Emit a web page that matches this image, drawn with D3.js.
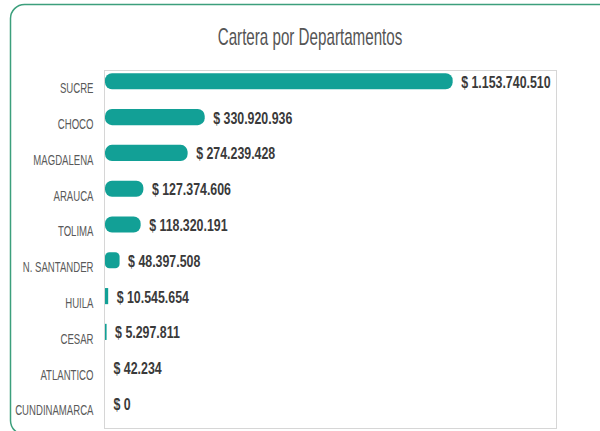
<!DOCTYPE html>
<html>
<head>
<meta charset="utf-8">
<script src="https://cdn.jsdelivr.net/npm/d3@7"></script>
<style>
  html, body { margin: 0; padding: 0; background: #fff; }
  svg { display: block; }
</style>
</head>
<body>
<svg id="chart" width="600" height="431"></svg>
<script>
const title = "Cartera por Departamentos";
const categories = ["SUCRE", "CHOCO", "MAGDALENA", "ARAUCA", "TOLIMA", "N. SANTANDER", "HUILA", "CESAR", "ATLANTICO", "CUNDINAMARCA"];
const values = [1153740510, 330920936, 274239428, 127374606, 118320191, 48397508, 10545654, 5297811, 42234, 0];
const valueLabels = ["$ 1.153.740.510", "$ 330.920.936", "$ 274.239.428", "$ 127.374.606", "$ 118.320.191", "$ 48.397.508", "$ 10.545.654", "$ 5.297.811", "$ 42.234", "$ 0"];
const xMax = 1500000000;

const FONT = "'Liberation Sans', Arial, sans-serif";
const svg = d3.select("#chart");

// outer rounded frame
svg.append("rect")
  .attr("x", 10.5).attr("y", 4.5)
  .attr("width", 610).attr("height", 430)
  .attr("rx", 14).attr("ry", 14)
  .attr("fill", "#fff")
  .attr("stroke", "#3c9f7c").attr("stroke-width", 1.5);

// title
svg.append("text")
  .attr("transform", "translate(310,45) scale(0.66,1)")
  .attr("text-anchor", "middle")
  .attr("font-family", FONT)
  .attr("font-size", 23)
  .attr("fill", "#555")
  .text(title);

const plot = { left: 104.5, right: 556.5, top: 70.5, bottom: 428.5 };

// plot box
svg.append("rect")
  .attr("x", plot.left).attr("y", plot.top)
  .attr("width", plot.right - plot.left).attr("height", plot.bottom - plot.top)
  .attr("fill", "#fff")
  .attr("stroke", "#d6d6d6").attr("stroke-width", 1);

const x = d3.scaleLinear().domain([0, xMax]).range([105, 557]);
const y = d3.scaleBand().domain(categories).range([63.4, 421.4]).paddingInner(0.55).paddingOuter(0.275);

const data = categories.map((c, i) => ({ cat: c, val: values[i], label: valueLabels[i] }));

// bars
svg.append("g").selectAll("rect")
  .data(data)
  .join("rect")
  .attr("x", x(0))
  .attr("y", d => y(d.cat))
  .attr("width", d => Math.max(0, x(d.val) - x(0)))
  .attr("height", y.bandwidth())
  .attr("rx", d => {
    const w = x(d.val) - x(0);
    return w > 4 ? Math.min(7, w * 0.3) : 0;
  })
  .attr("fill", "#12a096");

// category labels (y axis)
const yAxis = d3.axisLeft(y).tickSize(0).tickPadding(0);
const gy = svg.append("g").attr("transform", "translate(93.5,0)").call(yAxis);
gy.select(".domain").remove();
gy.selectAll(".tick text")
  .attr("font-family", FONT)
  .attr("font-size", 15)
  .attr("fill", "#595959")
  .attr("dy", null)
  .attr("x", 0)
  .attr("y", 0)
  .attr("transform", "translate(0,11.8) scale(0.64,1)")
  .attr("text-anchor", "end");

// value labels
svg.append("g").selectAll("text")
  .data(data)
  .join("text")
  .attr("transform", d => `translate(${x(d.val) + 8.5},${y(d.cat) + y.bandwidth() / 2 + 6.5}) scale(0.75,1)`)
  .attr("font-family", FONT)
  .attr("font-weight", "bold")
  .attr("font-size", 16.5)
  .attr("fill", "#3a3a3a")
  .text(d => d.label);
</script>
</body>
</html>
